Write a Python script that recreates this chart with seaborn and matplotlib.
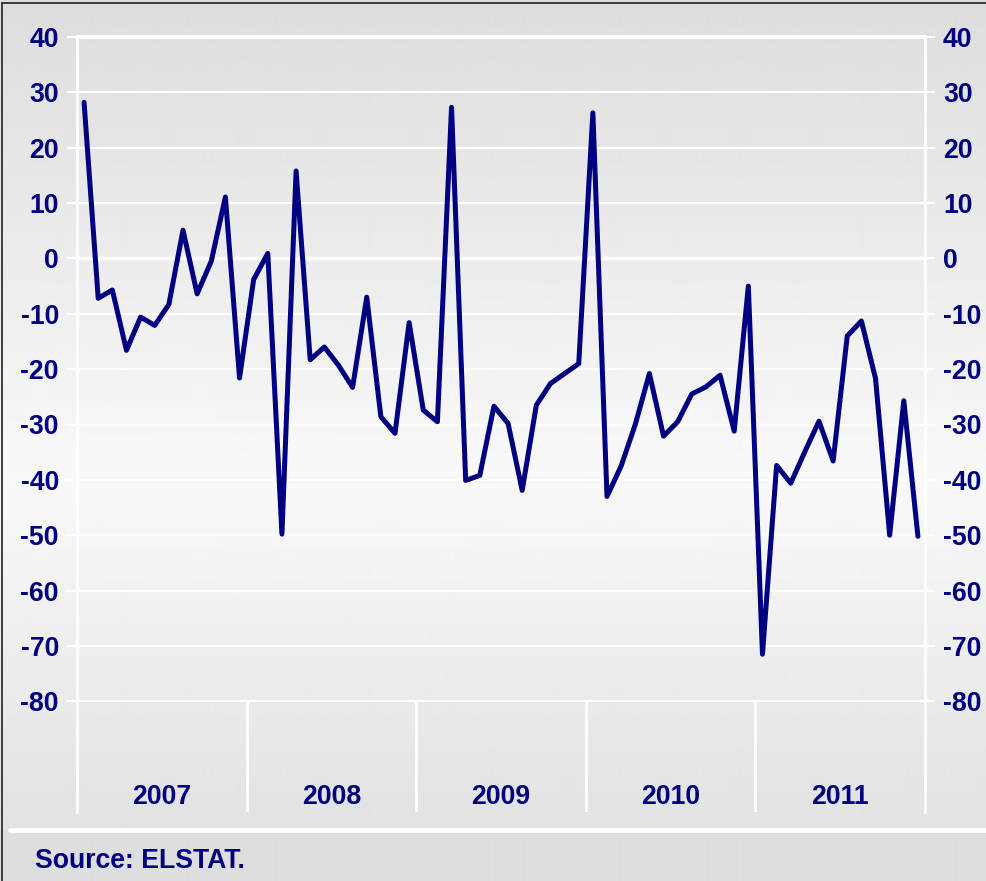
import numpy as np
import pandas as pd
import matplotlib
matplotlib.use("Agg")
import matplotlib.pyplot as plt
import seaborn as sns
from matplotlib.lines import Line2D

# ---- data -------------------------------------------------------------
years = ["2007", "2008", "2009", "2010", "2011"]
values = [28.2, -7.2, -5.7, -16.6, -10.6, -12.1, -8.3, 5.1, -6.4, -0.5, 11.1, -21.6,
          -3.8, 0.9, -49.8, 15.8, -18.3, -16.0, -19.3, -23.3, -7.0, -28.6, -31.6, -11.6,
          -27.4, -29.5, 27.3, -40.1, -39.2, -26.7, -29.8, -41.9, -26.5, -22.6, -20.8, -19.0,
          26.3, -43.0, -37.5, -30.0, -20.8, -32.1, -29.5, -24.5, -23.2, -21.1, -31.2, -5.0,
          -71.5, -37.4, -40.6, -34.9, -29.4, -36.6, -14.0, -11.3, -21.7, -50.0, -25.7, -50.2]
yticks = list(range(-80, 41, 10))
source_text = "Source: ELSTAT."

# ---- style ------------------------------------------------------------
sns.set_style("white")
plt.rcParams['font.family'] = ['Liberation Sans', 'DejaVu Sans']
plt.rcParams['font.weight'] = 'bold'
NAVY = '#000080'
FS = 19.2

W, H = 987, 881
fig = plt.figure(figsize=(W / 100, H / 100), dpi=100)

# background gradient
bg = fig.add_axes([0, 0, 1, 1], zorder=-5)
rows = np.arange(H)
prof = np.interp(rows, [0, 480, 829, 830, H], [0.865, 0.975, 0.885, 0.87, 0.87])
img = np.repeat(prof[:, None], 4, axis=1)
bg.imshow(img, cmap='gray', vmin=0, vmax=1, aspect='auto', extent=[0, 1, 0, 1],
          interpolation='bilinear')
bg.set_axis_off()

# main axes
ax = fig.add_axes([77 / W, 1 - 812 / H, (925 - 77) / W, (812 - 37) / H])
ax.set_facecolor('none')

df = pd.DataFrame({"month": np.arange(len(values)), "value": values})
sns.lineplot(data=df, x="month", y="value", ax=ax, color=NAVY, lw=3.6,
             solid_joinstyle='round', solid_capstyle='round', zorder=5)

ax.set_xlim(-0.5, len(values) - 0.5)
ax.set_ylim(-100, 40)
ax.set_yticks(yticks)
ax.set_yticklabels([str(t) for t in yticks])
ax.set_xticks([])
ax.set_xlabel("")
ax.set_ylabel("")
ax.yaxis.grid(True, color='white', lw=1.5)
ax.set_axisbelow(True)
ax.axhline(0, color='white', lw=2.5, zorder=1)
ax.axhline(40, color='white', lw=3, zorder=1, clip_on=False)

ax.tick_params(axis='y', which='both', left=True, right=True, labelleft=True,
               labelright=True, color='white', length=7, width=1.5,
               labelcolor=NAVY, labelsize=FS, pad=6)
for lab in ax.get_yticklabels():
    lab.set_fontweight('bold')

for s in ['top', 'bottom']:
    ax.spines[s].set_visible(False)
for s in ['left', 'right']:
    ax.spines[s].set_color('white')
    ax.spines[s].set_linewidth(2)

# year separators and labels
ax.vlines([12 * i - 0.5 for i in range(1, len(years))], -100, -80,
          colors='white', lw=2, zorder=1)
for i, y in enumerate(years):
    ax.text(12 * i + 5.5, -97.3, y, ha='center', va='center', color=NAVY,
            fontsize=FS, fontweight='bold')

# footer
fig.add_artist(Line2D([10 / W, 1], [1 - 830 / H] * 2, color='white', lw=3.5))
fig.text(35 / W, 1 - 861 / H, source_text, ha='left', va='center', color=NAVY,
         fontsize=FS, fontweight='bold')

# frame lines (left & top)
fig.add_artist(Line2D([2.5 / W] * 2, [0, 1 - 3 / H], color='#303030', lw=1.3))
fig.add_artist(Line2D([2.5 / W, 1], [1 - 3 / H] * 2, color='#303030', lw=1.3))

fig.savefig("out.png", dpi=100)
